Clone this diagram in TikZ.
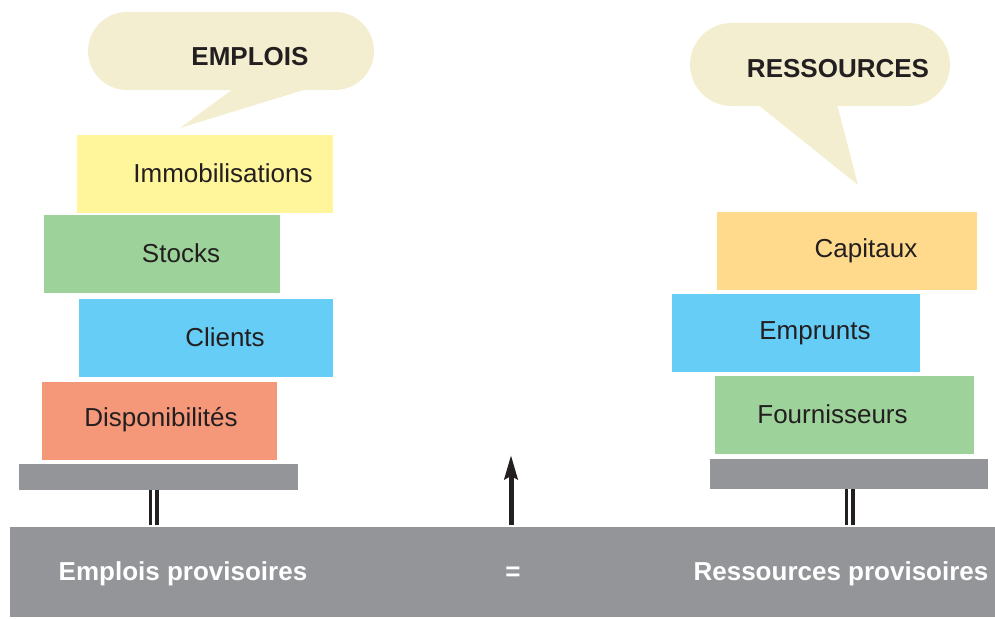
\documentclass[tikz,border=0pt]{standalone}
\usepackage{fontspec}
\setmainfont{Liberation Sans}
\usetikzlibrary{arrows.meta,shapes.misc,positioning}
\definecolor{jaune}{HTML}{FFF59B}
\definecolor{vert}{HTML}{9DD39B}
\definecolor{bleu}{HTML}{66CDF6}
\definecolor{saumon}{HTML}{F5987A}
\definecolor{orange}{HTML}{FFDA8C}
\definecolor{gris}{HTML}{939598}
\definecolor{creme}{HTML}{F3EECF}
\definecolor{encre}{HTML}{231F20}

\begin{document}
\begin{tikzpicture}[x=1pt,y=-1pt,
  bloc/.style={inner sep=0,minimum height=78pt},
  socle/.style={fill=gris,inner sep=0},
  txt/.style={font=\fontsize{26}{30}\selectfont,text=encre},
  titre/.style={font=\fontsize{26}{30}\selectfont\bfseries,text=encre},
  bas/.style={font=\fontsize{26}{30}\selectfont\bfseries,text=white},
  bulle/.style={rounded rectangle,fill=creme,inner sep=0},
  egal/.style={double=white,double distance=3.2pt,line width=3.4pt,draw=encre}]
\useasboundingbox (0,0) rectangle (995,618);
% bulles
\node[bulle,minimum width=286pt,minimum height=78pt] (bEmp) at (231,51) {};
\fill[creme] (233,89) -- (180,128) -- (307,89) -- cycle;
\node[titre] (tEmp) at (250,57) {EMPLOIS};
\node[bulle,minimum width=260pt,minimum height=83pt] (bRes) at (820,64.5) {};
\fill[creme] (757,104) -- (858,185) -- (837,104) -- cycle;
\node[titre] (tRes) at (838,69) {RESSOURCES};
% emplois
\node[bloc,fill=jaune,minimum width=256pt] (imm) at (205,174) {};
\node[bloc,fill=vert,minimum width=236pt] (sto) at (162,254) {};
\node[bloc,fill=bleu,minimum width=254pt] (cli) at (206,338) {};
\node[bloc,fill=saumon,minimum width=235pt] (dis) at (159.5,421) {};
\node[txt] at ([xshift=18pt,yshift=1pt]imm.center) {Immobilisations};
\node[txt] at ([xshift=19pt,yshift=1pt]sto.center) {Stocks};
\node[txt] at ([xshift=19pt,yshift=1pt]cli.center) {Clients};
\node[txt] at ([xshift=1.5pt,yshift=1pt]dis.center) {Disponibilités};
\node[socle,minimum width=279pt,minimum height=26pt] (sEmp) at (158.5,477) {};
% ressources
\node[bloc,fill=orange,minimum width=260pt] (cap) at (847,251) {};
\node[bloc,fill=bleu,minimum width=248pt] (empr) at (796,333) {};
\node[bloc,fill=vert,minimum width=259pt] (fou) at (844.5,415) {};
\node[txt] at ([xshift=19pt]cap.center) {Capitaux};
\node[txt] at ([xshift=19pt]empr.center) {Emprunts};
\node[txt] at ([xshift=-12pt,yshift=1pt]fou.center) {Fournisseurs};
\node[socle,minimum width=278pt,minimum height=30pt] (sRes) at (849,474) {};
% barre du bas
\node[socle,minimum width=985pt,minimum height=90pt] (barre) at (502.5,572) {};
\node[bas] (ep) at (183,574) {Emplois provisoires};
\node[bas] (eq) at (513,574) {=};
\node[bas] (rp) at (841,574) {Ressources provisoires};
\coordinate (pointe) at (511,455);
% liaisons
\draw[egal] (sEmp.south -| 153.5,0) -- ([yshift=2pt]barre.north -| 153.5,0);
\draw[egal] (sRes.south -| 849.5,0) -- ([yshift=2pt]barre.north -| 849.5,0);
\draw[line width=5pt,encre,-{Stealth[length=24pt,width=13pt,inset=3pt]}] ([yshift=2pt]barre.north -| pointe) -- (pointe);
\end{tikzpicture}
\end{document}
